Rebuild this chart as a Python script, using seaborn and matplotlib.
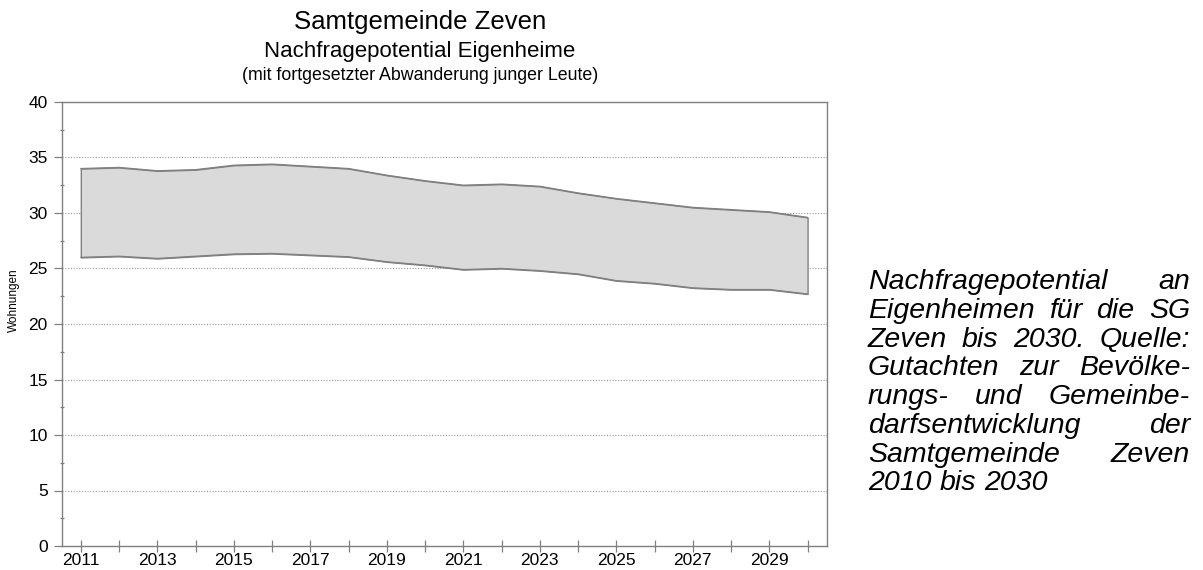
import matplotlib
matplotlib.use("Agg")
import matplotlib.pyplot as plt
from matplotlib.ticker import MultipleLocator, FixedLocator
import seaborn as sns
import pandas as pd

# ---- data ----
years = list(range(2011, 2031))
upper = [34.0, 34.1, 33.8, 33.9, 34.3, 34.4, 34.2, 34.0, 33.4, 32.9,
         32.5, 32.6, 32.4, 31.8, 31.3, 30.9, 30.5, 30.3, 30.1, 29.6]
lower = [26.0, 26.1, 25.9, 26.1, 26.3, 26.35, 26.2, 26.05, 25.6, 25.3,
         24.9, 25.0, 24.8, 24.5, 23.9, 23.65, 23.25, 23.1, 23.1, 22.7]
tick_labels = [str(y) if y % 2 == 1 else "" for y in years]

title1 = "Samtgemeinde Zeven"
title2 = "Nachfragepotential Eigenheime"
title3 = "(mit fortgesetzter Abwanderung junger Leute)"
ylabel = "Wohnungen"
caption_lines = [
    ["Nachfragepotential", "an"],
    ["Eigenheimen", "für", "die", "SG"],
    ["Zeven", "bis", "2030.", "Quelle:"],
    ["Gutachten", "zur", "Bevölke-"],
    ["rungs-", "und", "Gemeinbe-"],
    ["darfsentwicklung", "der"],
    ["Samtgemeinde", "Zeven"],
    ["2010", "bis", "2030"],
]

df = pd.DataFrame({"Jahr": years, "Obergrenze": upper, "Untergrenze": lower})

sns.set_theme(style="white")
plt.rcParams["font.family"] = ["Liberation Sans", "DejaVu Sans"]
plt.rcParams["text.color"] = "black"
plt.rcParams["xtick.labelcolor"] = "black"
plt.rcParams["ytick.labelcolor"] = "black"

W, H = 1203, 570
fig = plt.figure(figsize=(W / 100, H / 100), dpi=100)
ax = fig.add_axes([61.7 / W, 24 / H, 765 / W, 444 / H])

edge = "#808080"
ax.fill_between(df["Jahr"], df["Untergrenze"], df["Obergrenze"],
                facecolor="#dadada", edgecolor=edge, linewidth=1.0, zorder=2)
sns.lineplot(data=df, x="Jahr", y="Obergrenze", ax=ax, color=edge, linewidth=1.0, zorder=3)
sns.lineplot(data=df, x="Jahr", y="Untergrenze", ax=ax, color=edge, linewidth=1.0, zorder=3)

ax.set_xlim(2010.5, 2030.5)
ax.set_ylim(0, 40)
ax.set_xlabel("")
ax.set_ylabel("")

ax.xaxis.set_major_locator(FixedLocator(years))
ax.set_xticklabels(tick_labels)
ax.yaxis.set_major_locator(MultipleLocator(5))
ax.yaxis.set_minor_locator(MultipleLocator(2.5))

ax.tick_params(axis="x", which="major", direction="inout", length=8.6, width=0.9,
               color=edge, labelsize=12.5, pad=1, bottom=True, labelcolor="black")
ax.tick_params(axis="y", which="major", direction="out", length=6, width=0.9,
               color=edge, labelsize=12.5, pad=4, left=True, labelcolor="black")
ax.tick_params(axis="y", which="minor", direction="inout", length=3, width=0.9,
               color=edge, left=True)

for s in ax.spines.values():
    s.set_visible(True)
    s.set_color(edge)
    s.set_linewidth(1.0)

ax.yaxis.grid(True, which="major", color="#999999", linestyle=(0, (1, 1.5)), linewidth=0.8)
ax.xaxis.grid(False)
ax.set_axisbelow(True)

# titles
cx = 420 / W
fig.text(cx, 1 - 29 / H, title1, ha="center", va="baseline", fontsize=18.5, color="black")
fig.text(cx, 1 - 57 / H, title2, ha="center", va="baseline", fontsize=16, color="black")
fig.text(cx, 1 - 80 / H, title3, ha="center", va="baseline", fontsize=12.8, color="black")

fig.text(14 / W, 1 - 300 / H, ylabel, rotation=90, ha="center", va="center",
         fontsize=8.5, color="black")

# justified italic caption on the right
fs = 20.5
renderer = fig.canvas.get_renderer()
x0, x1 = 868, 1190
base0, step = 289.3, 28.7
sp = fig.text(0, 0, "a a", fontsize=fs, style="italic")
a2 = fig.text(0, 0, "aa", fontsize=fs, style="italic")
space_w = sp.get_window_extent(renderer).width - a2.get_window_extent(renderer).width
sp.remove()
a2.remove()
for i, words in enumerate(caption_lines):
    yb = 1 - (base0 + i * step) / H
    texts = [fig.text(0, yb, w, fontsize=fs, style="italic", va="baseline", ha="left",
                      color="black")
             for w in words]
    widths = [t.get_window_extent(renderer).width for t in texts]
    if i == len(caption_lines) - 1:
        gap = space_w
    else:
        gap = (x1 - x0 - sum(widths)) / (len(words) - 1)
    x = x0
    for t, w in zip(texts, widths):
        t.set_x(x / W)
        x += w + gap

fig.savefig("out.png", dpi=100)
